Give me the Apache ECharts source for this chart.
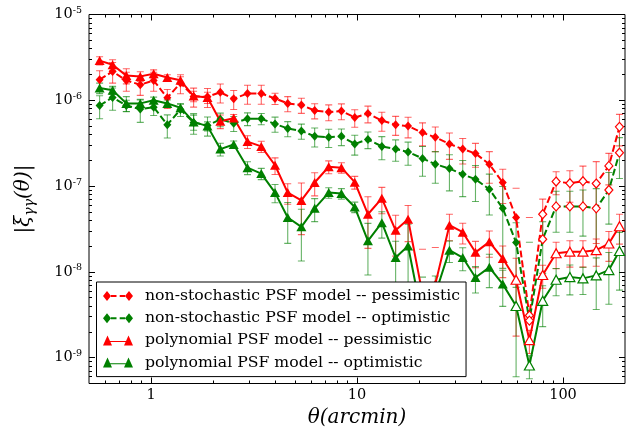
<!DOCTYPE html>
<html>
<head>
<meta charset="utf-8">
<title>xi gamma gamma</title>
<script src="https://cdn.jsdelivr.net/npm/echarts@6/dist/echarts.min.js"></script>
<style>
  html, body { margin: 0; padding: 0; background: #fff; }
  #chart { width: 627px; height: 430px; }
</style>
</head>
<body>
<div id="chart"></div>
<script>
// separation in arcmin
const theta = [0.563, 0.651, 0.759, 0.887, 1.03, 1.20, 1.39, 1.61, 1.88, 2.17,
  2.52, 2.94, 3.43, 4.00, 4.61, 5.37, 6.23, 7.29, 8.40, 9.75,
  11.3, 13.2, 15.4, 17.7, 20.8, 24.0, 28.1, 32.6, 37.6, 43.9,
  51.0, 59.2, 68.7, 79.7, 92.6, 108, 125, 145, 167, 188];

// xi values, negative ones are drawn as |xi| with open markers
const xiNonStochPess = [1.74e-6, 2.17e-6, 1.70e-6, 1.52e-6, 1.70e-6, 1.07e-6, 1.59e-6, 1.11e-6, 1.10e-6, 1.24e-6,
  1.04e-6, 1.20e-6, 1.20e-6, 1.05e-6, 9.2e-7, 8.8e-7, 7.6e-7, 7.3e-7, 7.5e-7, 6.3e-7,
  7.0e-7, 5.8e-7, 5.2e-7, 5.0e-7, 4.2e-7, 3.7e-7, 3.1e-7, 2.7e-7, 2.4e-7, 1.8e-7,
  1.1e-7, 4.3e-8, -3.1e-9, -4.7e-8, -1.13e-7, -1.08e-7, -1.14e-7, -1.07e-7, -1.72e-7, -4.9e-7];
const xiNonStochOpt = [8.7e-7, 1.08e-6, 8.7e-7, 7.9e-7, 8.3e-7, 5.2e-7, 7.8e-7, 5.5e-7, 5.1e-7, 6.0e-7,
  5.4e-7, 6.1e-7, 6.1e-7, 5.3e-7, 4.7e-7, 4.4e-7, 3.8e-7, 3.7e-7, 3.8e-7, 3.1e-7,
  3.5e-7, 2.9e-7, 2.7e-7, 2.5e-7, 2.1e-7, 1.8e-7, 1.6e-7, 1.37e-7, 1.2e-7, 9.2e-8,
  5.5e-8, 2.2e-8, -2.7e-9, -2.4e-8, -5.8e-8, -5.8e-8, -5.8e-8, -5.5e-8, -9.0e-8, -2.45e-7];
const xiPolyPess = [2.9e-6, 2.6e-6, 1.94e-6, 1.9e-6, 2.04e-6, 1.84e-6, 1.71e-6, 1.12e-6, 1.08e-6, 5.7e-7,
  6.2e-7, 3.3e-7, 2.9e-7, 1.75e-7, 8.4e-8, 6.8e-8, 1.1e-7, 1.68e-7, 1.64e-7, 1.11e-7,
  4.7e-8, 7.2e-8, 3.05e-8, 4.1e-8, 5.5e-9, 7.2e-9, 3.5e-8, 2.9e-8, 1.69e-8, 2.24e-8,
  1.43e-8, -8.1e-9, -1.6e-9, -9.2e-9, -1.65e-8, -1.72e-8, -1.72e-8, -1.79e-8, -2.14e-8, -3.4e-8];
const xiPolyOpt = [1.39e-6, 1.31e-6, 9.2e-7, 9.2e-7, 1.0e-6, 9.2e-7, 8.2e-7, 5.6e-7, 5.0e-7, 2.7e-7,
  3.05e-7, 1.64e-7, 1.4e-7, 8.4e-8, 4.3e-8, 3.35e-8, 5.5e-8, 8.4e-8, 8.2e-8, 5.7e-8,
  2.3e-8, 3.75e-8, 1.47e-8, 2.0e-8, 2.8e-9, 5.5e-9, 1.79e-8, 1.47e-8, 8.6e-9, 1.13e-8,
  7.2e-9, -4.0e-9, -8.1e-10, -4.6e-9, -8.1e-9, -8.7e-9, -8.4e-9, -9.1e-9, -1.05e-8, -1.75e-8];

// error bars as a fraction of |xi| (>1 means the lower end is below zero)
const errNonStochPess = [0.27, 0.27, 0.25, 0.25, 0.25, 0.25, 0.25, 0.25, 0.25, 0.25,
  0.25, 0.25, 0.25, 0.15, 0.2, 0.2, 0.2, 0.21, 0.21, 0.23,
  0.22, 0.25, 0.25, 0.27, 0.3, 0.32, 0.34, 0.33, 0.31, 0.4,
  0.43, 1.19, 12.9, 0.5, 0.3, 0.4, 0.5, 0.8, 0.4, 0.4];
const errNonStochOpt = [0.3, 0.29, 0.15, 0.3, 0.2, 0.3, 0.17, 0.27, 0.25, 0.18,
  0.2, 0.17, 0.15, 0.2, 0.2, 0.2, 0.25, 0.24, 0.22, 0.26,
  0.22, 0.3, 0.28, 0.3, 0.38, 0.4, 0.45, 0.45, 0.45, 0.5,
  0.8, 0.7, 7.2, 0.6, 0.5, 0.5, 0.55, 0.7, 0.6, 0.5];
const errPolyPess = [0.11, 0.14, 0.2, 0.13, 0.11, 0.08, 0.1, 0.14, 0.15, 0.18,
  0.1, 0.17, 0.15, 0.22, 0.27, 0.6, 0.3, 0.17, 0.14, 0.17,
  0.6, 0.34, 0.5, 0.45, 2.34, 1.67, 0.34, 0.27, 0.34, 0.34,
  0.4, 0.78, 0.3, 0.3, 0.34, 0.34, 0.34, 0.35, 0.38, 0.38];
const errPolyOpt = [0.14, 0.11, 0.2, 0.1, 0.09, 0.1, 0.1, 0.2, 0.12, 0.17,
  0.1, 0.17, 0.15, 0.24, 0.5, 0.6, 0.3, 0.14, 0.14, 0.14,
  0.6, 0.34, 0.55, 0.8, 2.1, 0.63, 0.28, 0.3, 0.34, 0.42,
  0.45, 0.85, 0.3, 0.5, 0.35, 0.38, 0.35, 0.6, 0.6, 0.65];

const xMajor = [1, 10, 100];
const xMinor = [0.6, 0.7, 0.8, 0.9, 2, 3, 4, 5, 6, 7, 8, 9, 20, 30, 40, 50, 60, 70, 80, 90];
const yMajor = [1e-9, 1e-8, 1e-7, 1e-6, 1e-5];
const yMinor = [];
[-10, -9, -8, -7, -6].forEach(p => {
  for (let m = 2; m <= 9; m++) {
    const v = m * Math.pow(10, p);
    if (v > 5e-10) yMinor.push(Number(v.toPrecision(2)));
  }
});

const names = ['non-stochastic PSF model -- pessimistic', 'non-stochastic PSF model -- optimistic',
  'polynomial PSF model -- pessimistic', 'polynomial PSF model -- optimistic'];

const SERIF = 'DejaVu Serif';
const RED = '#ff0000', GREEN = '#008000';

//legend icons: two markers joined by a line, like matplotlib
const iconDiamond = 'path://M4,0L8,5L4,10L0,5Z M26,0L30,5L26,10L22,5Z M8,4L13.5,4L13.5,6L8,6Z M16.7,4L22,4L22,6L16.7,6Z';
const iconTriangle = 'path://M4.5,0L9,10L0,10Z M25.5,0L30,10L21,10Z M4.5,5.7L25.5,5.7L25.5,6.7L4.5,6.7Z';

function lineSeries(name, vals, color, symbol, size, dashed, openEdge) {
  return {
    name: name, type: 'line', z: 3,
    symbol: symbol, symbolSize: size, showAllSymbol: true,
    itemStyle: {color: color},
    lineStyle: {color: color, width: 2, type: dashed ? [7, 3] : 'solid'},
    emphasis: {disabled: true},
    data: vals.map((v, i) => v < 0
      ? {value: [theta[i], -v], itemStyle: {color: '#fff', borderColor: openEdge, borderWidth: 1.2}}
      : [theta[i], v])
  };
}

function errSeries(vals, errs, color) {
  return {
    type: 'custom', z: 2, silent: true, clip: true,
    data: vals.map((v, i) => [theta[i], Math.abs(v), errs[i]]),
    renderItem(params, api) {
      const x = api.value(0), v = api.value(1), r = api.value(2);
      const top = api.coord([x, v * (1 + r)]);
      const style = {stroke: color, lineWidth: 1.1};
      const kids = [{type: 'line', shape: {x1: top[0] - 3.5, y1: top[1], x2: top[0] + 3.5, y2: top[1]}, style: style}];
      // on a log axis a bar reaching below zero is dropped, only its upper cap stays
      if (r < 1) {
        const bot = api.coord([x, v * (1 - r)]);
        kids.push({type: 'line', shape: {x1: top[0], y1: top[1], x2: bot[0], y2: bot[1]}, style: style});
        kids.push({type: 'line', shape: {x1: bot[0] - 3.5, y1: bot[1], x2: bot[0] + 3.5, y2: bot[1]}, style: style});
      }
      return {type: 'group', children: kids};
    }
  };
}

function logAxis(extra, min, max, ticks, len, pos) {
  return Object.assign({
    type: 'log', logBase: 10, min: min, max: max, position: pos,
    axisLine: {show: false}, splitLine: {show: false},
    axisTick: {inside: true, length: len, customValues: ticks, lineStyle: {color: '#000', width: 1}},
    axisLabel: {show: false}
  }, extra);
}

const xLabelAxis = {
  axisLabel: {customValues: xMajor, margin: 4, fontFamily: SERIF, fontSize: 14.5, color: '#000',
    formatter: v => String(Math.round(v))},
  name: 'θ(arcmin)', nameLocation: 'middle', nameGap: 14,
  nameTextStyle: {fontFamily: SERIF, fontStyle: 'italic', fontSize: 20, color: '#000'}
};
const yLabelAxis = {
  axisLabel: {customValues: yMajor, margin: 7, fontFamily: SERIF, fontSize: 14.5, color: '#000', lineHeight: 18,
    formatter: v => '10{s|' + Math.round(Math.log10(v)) + '}',
    rich: {s: {fontFamily: SERIF, fontSize: 9.5, color: '#000', verticalAlign: 'top', lineHeight: 6}}},
  name: '{a||ξ}{g|γγ}{a|(θ)|}', nameLocation: 'middle', nameGap: 52, nameRotate: 90,
  nameTextStyle: {color: '#000', rich: {
    a: {fontFamily: SERIF, fontStyle: 'italic', fontSize: 20, lineHeight: 26, color: '#000'},
    g: {fontFamily: SERIF, fontStyle: 'italic', fontSize: 14, lineHeight: 8, verticalAlign: 'bottom', color: '#000'}
  }}
};

const option = {
  animation: false,
  backgroundColor: '#fff',
  grid: {left: 89, right: 2, top: 14.5, bottom: 46.5, show: true, borderColor: '#000', borderWidth: 1,
    outerBoundsMode: 'none'},
  xAxis: [
    logAxis(xLabelAxis, 0.5, 200, xMajor, 6, 'bottom'),
    logAxis({}, 0.5, 200, xMinor, 3, 'bottom'),
    logAxis({}, 0.5, 200, xMajor, 6, 'top'),
    logAxis({}, 0.5, 200, xMinor, 3, 'top')
  ],
  yAxis: [
    logAxis(yLabelAxis, 5e-10, 1e-5, yMajor, 6, 'left'),
    logAxis({}, 5e-10, 1e-5, yMinor, 3, 'left'),
    logAxis({}, 5e-10, 1e-5, yMajor, 6, 'right'),
    logAxis({}, 5e-10, 1e-5, yMinor, 3, 'right')
  ],
  legend: {
    orient: 'vertical', left: 96.5, top: 282, padding: [3, 6, 3, 6.5], z: 10,
    itemWidth: 30, itemHeight: 10, itemGap: 0.2,
    backgroundColor: '#fff', borderColor: '#000', borderWidth: 1, borderRadius: 0,
    selectedMode: false,
    itemStyle: {borderWidth: 0},
    textStyle: {fontFamily: SERIF, fontSize: 15.7, color: '#000', lineHeight: 22, padding: [0, 0, 0, 7]},
    data: [
      {name: names[0], icon: iconDiamond},
      {name: names[1], icon: iconDiamond},
      {name: names[2], icon: iconTriangle},
      {name: names[3], icon: iconTriangle}
    ]
  },
  series: [
    errSeries(xiNonStochPess, errNonStochPess, 'rgba(255,0,0,0.6)'),
    lineSeries(names[0], xiNonStochPess, RED, 'diamond', [8, 9], true, RED),
    errSeries(xiNonStochOpt, errNonStochOpt, 'rgba(0,128,0,0.6)'),
    lineSeries(names[1], xiNonStochOpt, GREEN, 'diamond', [8, 9], true, RED),
    errSeries(xiPolyPess, errPolyPess, 'rgba(255,0,0,0.6)'),
    lineSeries(names[2], xiPolyPess, RED, 'triangle', [10, 9], false, RED),
    errSeries(xiPolyOpt, errPolyOpt, 'rgba(0,128,0,0.6)'),
    lineSeries(names[3], xiPolyOpt, GREEN, 'triangle', [10, 9], false, GREEN)
  ]
};

const myChart = echarts.init(document.getElementById('chart'));
myChart.setOption(option);
window.addEventListener('resize', function () {
  myChart.resize();
});
</script>
</body>
</html>
